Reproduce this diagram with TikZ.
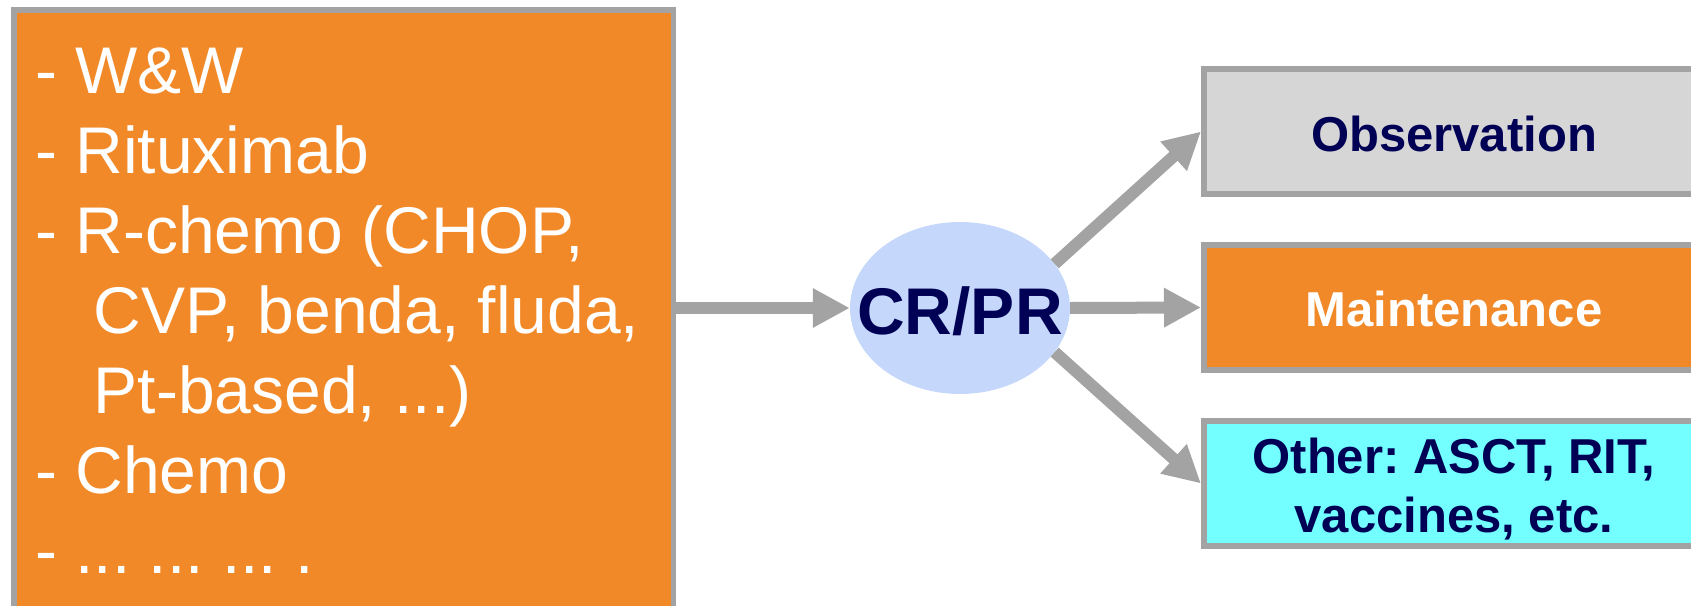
\documentclass[tikz,border=0pt]{standalone}
\usepackage{fontspec}
\setmainfont{Liberation Sans}
\usetikzlibrary{shapes.geometric,arrows.meta}
\definecolor{boxorange}{RGB}{242,137,40}
\definecolor{edgegray}{RGB}{163,163,163}
\definecolor{obsgray}{RGB}{214,214,214}
\definecolor{othercyan}{RGB}{115,255,255}
\definecolor{ellblue}{RGB}{197,216,251}
\definecolor{navy}{RGB}{0,0,85}
\tikzset{
  outcome/.style={rectangle,draw=edgegray,line width=6pt,minimum width=500pt,
    minimum height=125pt,anchor=west,align=center,text=navy,
    font=\fontsize{49}{59}\selectfont\bfseries},
  flow/.style={->,draw=edgegray,line width=12pt},
}
\frenchspacing

\begin{document}
\begin{tikzpicture}[>={Triangle[length=37pt,width=37pt]},x=1pt,y=-1pt]
  \path[use as bounding box,clip] (0,0) rectangle (1691,605);
  % first-line options (box runs off the bottom)
  \node[rectangle,fill=boxorange,draw=edgegray,line width=5.5pt,minimum width=659.5pt,
    minimum height=700pt,anchor=north west] (treat) at (11,7) {};
  \node[anchor=north west,inner sep=0pt,align=left,text=white,
    font=\fontsize{66}{80}\selectfont] (list) at (35,48)
    {- W\&W\\
     - Rituximab\\
     - R-chemo (CHOP,\\
     \phantom{-}\ \ CVP, benda, fluda,\\
     \phantom{-}\ \ Pt-based, ...)\\
     - Chemo\\
     - ... ... ... .};
  % response
  \node[ellipse,fill=ellblue,minimum width=220pt,minimum height=172pt,inner sep=0pt]
    (crpr) at (960,308) {};
  \node[text=navy,font=\fontsize{66}{66}\selectfont\bfseries] (crprlabel)
    at ([yshift=-3pt]crpr.center) {CR/PR};
  % what comes next
  \node[outcome,fill=obsgray] (obs) at (1201,131.5) {\rule{0pt}{40pt}Observation};
  \node[outcome,fill=boxorange,text=white] (maint) at (1201,307.5) {\rule{0pt}{38pt}Maintenance};
  \node[outcome,fill=othercyan] (other) at (1201,483.5)
    {\rule{0pt}{47pt}Other: ASCT, RIT,\\vaccines, etc.};
  \draw[flow] (crpr.west -| treat.east) -- (crpr.west);
  \draw[flow] (crpr.25) -- (obs.west);
  \draw[flow] (crpr.east) -- (maint.west);
  \draw[flow] (crpr.-25) -- (other.west);
\end{tikzpicture}
\end{document}
